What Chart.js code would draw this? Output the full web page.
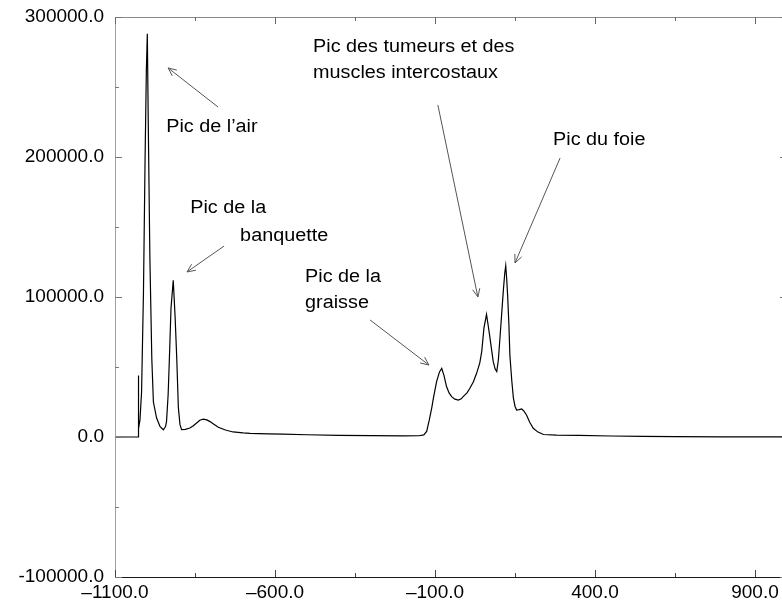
<!DOCTYPE html>
<html>
<head>
<meta charset="utf-8">
<script src="https://cdn.jsdelivr.net/npm/chart.js@4.4.1/dist/chart.umd.min.js"></script>
<style>
  html, body { margin: 0; padding: 0; background: #fff; overflow: hidden; }
  #wrap { position: relative; width: 800px; height: 607px; }
</style>
</head>
<body>
<div id="wrap"><canvas id="histo"></canvas></div>
<script>
// ===================================================================
// DONNÉES
// ===================================================================
const unitesHU = [
  -1100, -1030, -1027.5, -1027, -1026, -1022, -1017, -1011, -1006, -1002,
  -999, -996, -991, -985, -980, -970, -959, -949, -942, -939,
  -934, -930, -925, -918, -912, -907, -902, -897, -892, -880,
  -866, -855, -845, -835, -824, -813, -803, -790, -777, -755,
  -731, -700, -678, -620, -575, -500, -400, -300, -200, -150,
  -135, -126, -118, -110, -105, -95, -86, -79, -72, -64,
  -56, -48, -38, -27, -18, -12, 0, 9, 20, 30,
  40, 46, 53, 61, 66, 72, 77, 82, 88, 93,
  98, 103, 109, 114, 118, 121, 124, 127, 131, 134,
  140, 145, 150, 155, 163, 171, 178, 186, 196, 207,
  222, 239, 280, 350, 450, 550, 650, 800, 1000
];
const nbVoxels = [
  0, 0, 0, 44000, 6000, 12000, 32000, 104000, 199000, 262000,
  288000, 223000, 128000, 56000, 25000, 13500, 7400, 5200, 7500, 11000,
  30000, 56000, 92000, 112000, 85000, 56000, 21000, 9000, 5200, 5500,
  6400, 8000, 10000, 12000, 12800, 12200, 11000, 9000, 7000, 5000,
  3600, 2900, 2600, 2300, 2100, 1600, 1200, 1000, 800, 900,
  1500, 4000, 12000, 21000, 27800, 39500, 46500, 49000, 44000, 36000,
  31500, 28800, 27000, 26400, 27300, 28800, 31500, 34800, 39500, 45500,
  53000, 61000, 77900, 87600, 80000, 70500, 62000, 53800, 48500, 46700,
  55000, 70700, 90000, 106000, 117000, 122300, 113000, 101000, 80000, 58500,
  40000, 27800, 22000, 19300, 19500, 20000, 18500, 15700, 10500, 6200,
  3500, 1800, 1300, 1100, 700, 400, 250, 150, 100
];

// graduations des axes
const xTicksMajeurs = [-1100, -600, -100, 400, 900];
const xTicksMineurs = [-850, -350, 150, 650];
const yTicksMajeurs = [-100000, 0, 100000, 200000, 300000];
const yTicksMineurs = [-50000, 50000, 150000, 250000];

// annotations (texte + flèche), en coordonnées des données
const annotations = [
  { lignes: ['Pic de l’air'], x: -940, y: [221400], de: [-778, 235700], vers: [-934, 263600] },
  { lignes: ['Pic de la', 'banquette'], x: [-865, -709], y: [163600, 143600], de: [-759, 136400], vers: [-875, 117900] },
  { lignes: ['Pic de la', 'graisse'], x: -506, y: [114300, 95700], de: [-303, 83600], vers: [-119, 51400] },
  { lignes: ['Pic des tumeurs et des', 'muscles intercostaux'], x: -481, y: [278600, 260000], de: [-91, 237100], vers: [34, 100000] },
  { lignes: ['Pic du foie'], x: 269, y: [212100], de: [291, 199300], vers: [150, 124300] }
];

const POLICE = '"Liberation Sans", Arial, Helvetica, sans-serif';

// ===================================================================
// PLUGIN : cadre, graduations intérieures et annotations
// ===================================================================
const cadrePlugin = {
  id: 'cadre',
  afterDraw(chart) {
    const { ctx, chartArea: a, scales: { x, y } } = chart;

    function trait(x1, y1, x2, y2, couleur, largeur) {
      ctx.beginPath();
      ctx.strokeStyle = couleur;
      ctx.lineWidth = largeur || 1;
      ctx.moveTo(x1, y1);
      ctx.lineTo(x2, y2);
      ctx.stroke();
    }

    ctx.save();
    // axes
    trait(a.left + 0.5, a.top, a.left + 0.5, a.bottom, '#a0a0a0');
    trait(a.left, a.top + 0.5, a.right, a.top + 0.5, '#8a8a8a');
    trait(a.right - 0.5, a.top, a.right - 0.5, a.bottom, '#8a8a8a');
    trait(a.left, a.bottom + 0.5, a.right, a.bottom + 0.5, '#1a1a1a');

    // graduations vers l'intérieur
    const gradX = (v, long) => {
      const p = Math.round(x.getPixelForValue(v)) + 0.5;
      trait(p, a.bottom, p, a.bottom - long, '#444');
      trait(p, a.top, p, a.top + long, '#666');
    };
    const gradY = (v, long) => {
      const p = Math.round(y.getPixelForValue(v)) + 0.5;
      trait(a.left, p, a.left + long, p, '#777');
      trait(a.right, p, a.right - long, p, '#777');
    };
    xTicksMajeurs.forEach(v => gradX(v, 7));
    xTicksMineurs.forEach(v => gradX(v, 4));
    yTicksMajeurs.forEach(v => gradY(v, 7));
    yTicksMineurs.forEach(v => gradY(v, 4));

    // annotations
    ctx.font = '18px ' + POLICE;
    ctx.fillStyle = '#000';
    ctx.textBaseline = 'middle';
    ctx.textAlign = 'left';
    annotations.forEach(an => {
      an.lignes.forEach((txt, i) => {
        const vx = Array.isArray(an.x) ? an.x[i] : an.x;
        const px = x.getPixelForValue(vx);
        const py = y.getPixelForValue(an.y[i]);
        ctx.save();
        ctx.translate(px, py);
        ctx.scale(1.1, 1);
        ctx.fillText(txt, 0, 0);
        ctx.restore();
      });

      const x1 = x.getPixelForValue(an.de[0]), y1 = y.getPixelForValue(an.de[1]);
      const x2 = x.getPixelForValue(an.vers[0]), y2 = y.getPixelForValue(an.vers[1]);
      trait(x1, y1, x2, y2, '#555', 1);
      const ang = Math.atan2(y2 - y1, x2 - x1);
      const l = 9, ouv = 0.42;
      trait(x2, y2, x2 - l * Math.cos(ang - ouv), y2 - l * Math.sin(ang - ouv), '#555', 1);
      trait(x2, y2, x2 - l * Math.cos(ang + ouv), y2 - l * Math.sin(ang + ouv), '#555', 1);
    });
    ctx.restore();
  }
};

// ===================================================================
// GRAPHIQUE
// ===================================================================
const points = unitesHU.map((v, i) => ({ x: v, y: nbVoxels[i] }));

new Chart(document.getElementById('histo').getContext('2d'), {
  type: 'line',
  data: {
    datasets: [{
      data: points,
      borderColor: '#000',
      borderWidth: 1.2,
      pointRadius: 0,
      tension: 0,
      fill: false
    }]
  },
  options: {
    responsive: true,
    maintainAspectRatio: false,
    animation: false,
    layout: { padding: { top: 17, right: 13, left: 0, bottom: 0 } },
    plugins: { legend: { display: false }, tooltip: { enabled: false } },
    scales: {
      x: {
        type: 'linear',
        min: -1100,
        max: 1000,
        grid: { display: false, drawTicks: false },
        border: { display: false },
        afterBuildTicks: s => { s.ticks = xTicksMajeurs.map(v => ({ value: v })); },
        afterFit: s => { s.height = 30; s.paddingLeft = 0; s.paddingRight = 0; },
        ticks: {
          padding: 4,
          maxRotation: 0,
          autoSkip: false,
          color: '#000',
          font: { family: POLICE, size: 19 },
          callback: v => (v < 0 ? '\u2013' + Math.abs(v).toFixed(1) : v.toFixed(1))
        }
      },
      y: {
        type: 'linear',
        min: -100000,
        max: 300000,
        grid: { display: false, drawTicks: false },
        border: { display: false },
        afterBuildTicks: s => { s.ticks = yTicksMajeurs.map(v => ({ value: v })); },
        afterFit: s => { s.width = 115; s.paddingTop = 0; s.paddingBottom = 0; },
        ticks: {
          padding: 11,
          autoSkip: false,
          color: '#000',
          font: { family: POLICE, size: 19 },
          callback: v => v.toFixed(1)
        }
      }
    }
  },
  plugins: [cadrePlugin]
});
</script>
</body>
</html>
